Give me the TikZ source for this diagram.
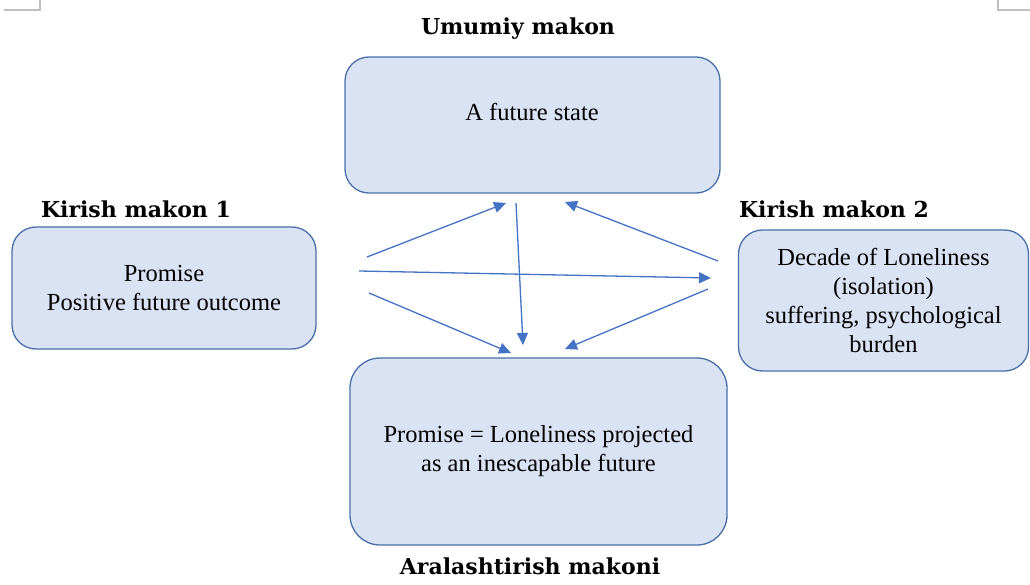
\documentclass[tikz,border=0pt]{standalone}
\usepackage{fontspec}
\setmainfont{Liberation Serif}
\newfontfamily\lblfont{DejaVu Serif}
\usetikzlibrary{arrows.meta}
\definecolor{boxfill}{HTML}{DAE3F3}
\definecolor{boxline}{HTML}{4A6FA8}
\definecolor{arr}{HTML}{4472C4}
\definecolor{markgray}{HTML}{BFBFBF}
\begin{document}
\begin{tikzpicture}[x=1pt,y=-1pt,
  box/.style={draw=boxline, fill=boxfill, line width=1.3pt, rounded corners=24pt, inner sep=0pt},
  lbl/.style={font=\lblfont\bfseries\fontsize{22}{26}\selectfont, inner sep=0pt, anchor=base},
  txt/.style={font=\fontsize{24.5}{29}\selectfont, align=center},
  link/.style={draw=arr, line width=1.3pt, -{Triangle[length=12pt,width=11pt]}},
  cornermark/.style={draw=markgray, line width=1.5pt}]
\useasboundingbox (0,0) rectangle (1030,585);
% corner marks
\coordinate (m1a) at (40,0); \coordinate (m1b) at (40,10); \coordinate (m1c) at (4,10);
\coordinate (m2a) at (998,0); \coordinate (m2b) at (998,10); \coordinate (m2c) at (1030,10);
\draw[cornermark] (m1a) -- (m1b) -- (m1c);
\draw[cornermark] (m2a) -- (m2b) -- (m2c);
% boxes
\node[box, minimum width=375pt, minimum height=136pt] (top) at (532.5,125) {};
\node[txt, anchor=base] (toptxt) at (532,121) {A future state};
\node[box, txt, minimum width=304pt, minimum height=122pt] (left) at (164,288) {Promise\\Positive future outcome};
\node[box, txt, minimum width=290pt, minimum height=141pt] (right) at (883.5,300.5) {Decade of Loneliness\\(isolation)\\suffering, psychological\\burden};
\node[box, txt, minimum width=377pt, minimum height=187pt, rounded corners=30pt] (bottom) at (538.5,451.5) {Promise = Loneliness projected\\as an inescapable future};
% labels
\node[lbl] (l1) at (518,35) {Umumiy makon};
\node[lbl] (l2) at (136,218) {Kirish makon 1};
\node[lbl] (l3) at (834,218) {Kirish makon 2};
\node[lbl] (l4) at (530,574) {Aralashtirish makoni};
% arrows
\coordinate (a1s) at (367,257); \coordinate (a1e) at (506,203);
\coordinate (a2s) at (516,203); \coordinate (a2e) at (523,345);
\coordinate (a3s) at (718,261); \coordinate (a3e) at (565,202);
\coordinate (a4s) at (359,271); \coordinate (a4e) at (711,278);
\coordinate (a5s) at (369,293); \coordinate (a5e) at (511,353);
\coordinate (a6s) at (708,289); \coordinate (a6e) at (565,349);
\draw[link] (a1s) -- (a1e);
\draw[link] (a2s) -- (a2e);
\draw[link] (a3s) -- (a3e);
\draw[link] (a4s) -- (a4e);
\draw[link] (a5s) -- (a5e);
\draw[link] (a6s) -- (a6e);
\end{tikzpicture}
\end{document}
